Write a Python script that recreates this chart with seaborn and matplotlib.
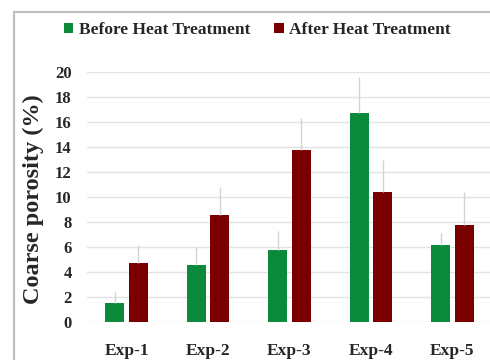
import numpy as np
import pandas as pd
import matplotlib
matplotlib.use('Agg')
import matplotlib.pyplot as plt
import seaborn as sns
from matplotlib.patches import Patch, Rectangle

# ============================
# 数据
# ============================
experiments = ['Exp-1', 'Exp-2', 'Exp-3', 'Exp-4', 'Exp-5']
before_vals = [1.5, 4.6, 5.8, 16.7, 6.2]
after_vals = [4.7, 8.6, 13.8, 10.4, 7.8]
before_err = [0.9, 1.4, 1.5, 2.9, 0.9]
after_err = [1.5, 2.2, 2.5, 2.6, 2.6]
series_names = ['Before Heat Treatment', 'After Heat Treatment']
y_ticks = [0, 2, 4, 6, 8, 10, 12, 14, 16, 18, 20]

colors = {'Before Heat Treatment': '#0b8a3c', 'After Heat Treatment': '#7a0000'}

df = pd.DataFrame({
    'Experiment': experiments * 2,
    'Series': [series_names[0]] * 5 + [series_names[1]] * 5,
    'Value': before_vals + after_vals,
    'Err': before_err + after_err,
})

sns.set_style('white')
plt.rcParams['font.family'] = ['Liberation Serif', 'DejaVu Serif']
plt.rcParams['font.weight'] = 'bold'

fig = plt.figure(figsize=(4.9, 3.6), dpi=100)
ax = fig.add_axes([87 / 490, 1 - 322 / 360, 405 / 490, 250 / 360])

sns.barplot(data=df, x='Experiment', y='Value', hue='Series',
            palette=colors, saturation=1, errorbar=None, width=0.58, gap=0.2,
            edgecolor='none', legend=False, zorder=2, ax=ax)

# 误差线（只画上半部分）
for cont, errs in zip(ax.containers, [before_err, after_err]):
    for bar, e in zip(cont, errs):
        xc = bar.get_x() + bar.get_width() / 2
        h = bar.get_height()
        ax.errorbar(xc, h, yerr=[[0], [e]], fmt='none', ecolor='#d4d4d4',
                    elinewidth=1.0, capsize=0, zorder=3)

ax.set_ylim(0, 20)
ax.set_yticks(y_ticks)
ax.yaxis.grid(True, color='#e3e3e3', linewidth=1.0, zorder=0)
ax.set_axisbelow(True)
for s in ax.spines.values():
    s.set_visible(False)
ax.tick_params(axis='y', length=0, pad=11, labelsize=12)
ax.tick_params(axis='x', length=0, pad=15, labelsize=12.5)
for lab in ax.get_xticklabels() + ax.get_yticklabels():
    lab.set_fontweight('bold')
ax.set_xlabel('')
ax.set_ylabel('Coarse porosity (%)', fontsize=17.5, fontweight='bold')
ax.yaxis.set_label_coords(-0.106, 0.49)

# 图例
handles = [Patch(facecolor=colors[n], edgecolor='none', label=n) for n in series_names]
fig.legend(handles=handles, loc='center', bbox_to_anchor=(0.525, 1 - 30 / 360),
           ncol=2, frameon=False, handlelength=0.55, handleheight=0.55,
           handletextpad=0.3, columnspacing=1.4,
           prop={'family': 'Liberation Serif', 'weight': 'bold', 'size': 12.5})

# 外框
fig.patches.append(Rectangle((14 / 490, -0.1), 1.2, 1 - 12 / 360 + 0.1,
                             transform=fig.transFigure, fill=False,
                             edgecolor='#c0c0c0', linewidth=1.6))

fig.savefig('out.png', dpi=100)
